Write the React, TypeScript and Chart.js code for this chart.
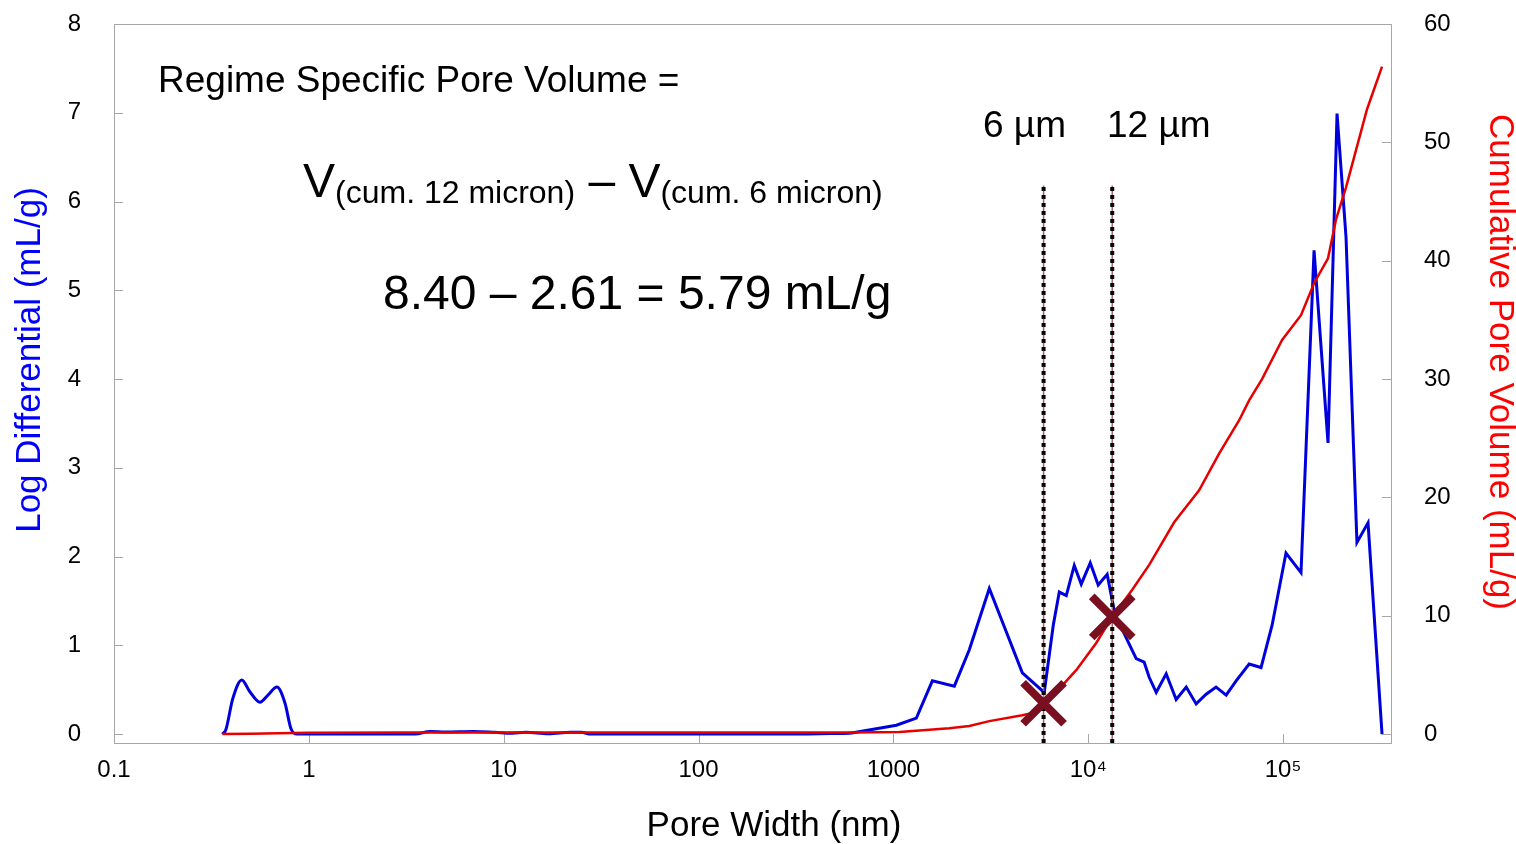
import React, { useEffect, useRef } from "react";
import { Chart, registerables } from "chart.js";

Chart.register(...registerables);

const FONT = "'Liberation Sans', Arial, sans-serif";

// Blue (log differential) – smooth micropore part
const blueSmallX = [0.36, 0.375, 0.407, 0.453, 0.497, 0.561, 0.617, 0.686, 0.754, 0.81, 0.87, 1, 2, 3.5, 4.2, 5, 7, 9, 11, 13, 17, 22, 25, 28, 40, 100, 300, 600];
const blueSmallY = [0, 0.05, 0.4, 0.61, 0.48, 0.36, 0.44, 0.53, 0.35, 0.06, 0, 0, 0, 0, 0.03, 0.025, 0.03, 0.02, 0.01, 0.02, 0.005, 0.02, 0.02, 0, 0, 0, 0, 0.01];

// Blue (log differential) – macropore part
const blueX = [600, 1036, 1312, 1585, 2055, 2453, 3107, 4590, 5945, 6618, 7103, 7716, 8478, 9206, 10240, 11250, 12510, 13700, 17630, 19370, 20550, 22330, 25120, 28270, 31840, 35810, 40280, 45310, 51040, 57420, 66950, 77100, 87890, 103500, 123600, 144200, 170100, 189200, 210400, 239400, 272900, 322000];
const blueY = [0.01, 0.1, 0.18, 0.6, 0.54, 0.95, 1.64, 0.69, 0.47, 1.23, 1.6, 1.56, 1.9, 1.69, 1.93, 1.68, 1.8, 1.35, 0.85, 0.81, 0.64, 0.47, 0.68, 0.39, 0.53, 0.34, 0.45, 0.53, 0.44, 0.6, 0.79, 0.75, 1.23, 2.04, 1.82, 5.45, 3.28, 6.99, 5.6, 2.16, 2.38, 0];

// Red (cumulative pore volume)
const redX = [0.36, 0.5, 0.7, 1, 3, 10, 30, 100, 300, 600, 1074, 1936, 2453, 3107, 4590, 5410, 5900, 6855, 8674, 10990, 13280, 16820, 20550, 27610, 37070, 46950, 59430, 66950, 78000, 98850, 123600, 144200, 170100, 187000, 210400, 269700, 322000];
const redY = [0, 0.04, 0.08, 0.12, 0.13, 0.13, 0.13, 0.13, 0.13, 0.14, 0.17, 0.5, 0.68, 1.1, 1.6, 1.86, 2.61, 3.55, 5.4, 7.7, 9.9, 12.2, 14.3, 17.9, 20.6, 23.7, 26.5, 28.2, 30.0, 33.3, 35.4, 38.1, 40.2, 43.5, 46.2, 52.8, 56.4];

// Regime boundaries (nm) and marker values on cumulative axis
const boundaryX = [5900, 13280];
const boundaryTop = 6.18;
const markerY = [2.61, 9.9];

const xTicks = [0.1, 1, 10, 100, 1000, 10000, 100000];
const xTickLabels = ["0.1", "1", "10", "100", "1000", "10\u2074", "10\u2075"];
const yTicks = [0, 1, 2, 3, 4, 5, 6, 7, 8];
const y2Ticks = [0, 10, 20, 30, 40, 50, 60];

const pts = (xs: number[], ys: number[]) => xs.map((x, i) => ({ x, y: ys[i] }));

const framePlugin = {
  id: "frame",
  beforeDatasetsDraw(chart: any) {
    const { ctx, chartArea: a, scales } = chart;
    ctx.save();
    ctx.strokeStyle = "#a6a6a6";
    ctx.lineWidth = 1;
    ctx.strokeRect(Math.round(a.left) + 0.5, Math.round(a.top) + 0.5, Math.round(a.right - a.left), Math.round(a.bottom - a.top));
    ctx.beginPath();
    const L = 9;
    yTicks.slice(0, -1).forEach((v) => {
      const y = Math.round(scales.y.getPixelForValue(v)) + 0.5;
      ctx.moveTo(a.left, y);
      ctx.lineTo(a.left + L, y);
    });
    y2Ticks.slice(0, -1).forEach((v) => {
      const y = Math.round(scales.y2.getPixelForValue(v)) + 0.5;
      ctx.moveTo(a.right, y);
      ctx.lineTo(a.right - L, y);
    });
    xTicks.slice(1).forEach((v) => {
      const x = Math.round(scales.x.getPixelForValue(v)) + 0.5;
      ctx.moveTo(x, a.bottom);
      ctx.lineTo(x, a.bottom - L);
    });
    ctx.stroke();
    ctx.restore();
  },
};

const textPlugin = {
  id: "texts",
  afterDraw(chart: any) {
    const c = chart.ctx;
    c.save();
    c.fillStyle = "#000";
    c.textAlign = "left";
    c.textBaseline = "middle";
    c.font = `37px ${FONT}`;
    c.fillText("Regime Specific Pore Volume =", 158, 82);

    let x = 303;
    c.textBaseline = "alphabetic";
    const draw = (t: string, size: number, y: number) => {
      c.font = `${size}px ${FONT}`;
      c.fillText(t, x, y);
      x += c.measureText(t).width;
    };
    draw("V", 48, 197);
    draw("(cum. 12 micron)", 32, 203);
    draw(" \u2013 ", 48, 197);
    draw("V", 48, 197);
    draw("(cum. 6 micron)", 32, 203);

    c.textBaseline = "middle";
    c.font = `48px ${FONT}`;
    c.fillText("8.40 \u2013 2.61 = 5.79 mL/g", 383, 296);

    c.font = `37px ${FONT}`;
    c.fillText("6 \u00b5m", 983, 127);
    c.fillText("12 \u00b5m", 1107, 127);

    // axis titles
    c.textAlign = "center";
    c.font = `35px ${FONT}`;
    c.fillText("Pore Width (nm)", 774, 826);

    c.save();
    c.translate(30, 360);
    c.rotate(-Math.PI / 2);
    c.fillStyle = "#0000ff";
    c.fillText("Log Differential (mL/g)", 0, 0);
    c.restore();

    c.save();
    c.translate(1500, 362);
    c.rotate(Math.PI / 2);
    c.fillStyle = "#ff0000";
    c.fillText("Cumulative Pore Volume (mL/g)", 0, 0);
    c.restore();

    c.restore();
  },
};

const noPad = (s: any) => {
  s.paddingTop = 0;
  s.paddingBottom = 0;
  s.paddingLeft = 0;
  s.paddingRight = 0;
};

export default function App() {
  const ref = useRef<HTMLCanvasElement>(null);
  useEffect(() => {
    const canvas = ref.current!;
    const tickFont = { family: FONT, size: 24 };
    const chart = new Chart(canvas, {
      type: "line",
      data: {
        datasets: [
          {
            label: "markers",
            data: boundaryX.map((x, i) => ({ x, y: markerY[i] })),
            yAxisID: "y2",
            showLine: false,
            pointStyle: "crossRot",
            pointRadius: 29,
            pointBorderWidth: 8,
            pointBorderColor: "#7a0f22",
            pointBackgroundColor: "#7a0f22",
            order: 0,
          },
          ...boundaryX.map((x) => ({
            label: "bdots",
            data: [{ x, y: -0.1 }, { x, y: boundaryTop }],
            yAxisID: "y",
            borderColor: "#000",
            borderWidth: 4,
            borderDash: [4, 4],
            pointRadius: 0,
            order: 1,
          })),
          ...boundaryX.map((x) => ({
            label: "bline",
            data: [{ x, y: -0.1 }, { x, y: boundaryTop }],
            yAxisID: "y",
            borderColor: "#a8606e",
            borderWidth: 1.5,
            pointRadius: 0,
            order: 2,
          })),
          {
            label: "cumulative",
            data: pts(redX, redY),
            yAxisID: "y2",
            borderColor: "#e60000",
            borderWidth: 2.5,
            pointRadius: 0,
            tension: 0,
            order: 3,
          },
          {
            label: "logdiff",
            data: pts(blueX, blueY),
            yAxisID: "y",
            borderColor: "#0000dd",
            borderWidth: 3,
            pointRadius: 0,
            tension: 0,
            order: 4,
          },
          {
            label: "logdiff-small",
            data: pts(blueSmallX, blueSmallY),
            yAxisID: "y",
            borderColor: "#0000dd",
            borderWidth: 3,
            pointRadius: 0,
            cubicInterpolationMode: "monotone",
            order: 5,
          },
        ],
      },
      options: {
        responsive: false,
        animation: false,
        clip: false,
        layout: { autoPadding: false, padding: { top: 24, left: 0, right: 0, bottom: 0 } },
        plugins: { legend: { display: false }, tooltip: { enabled: false } },
        scales: {
          x: {
            type: "logarithmic",
            min: 0.1,
            max: 358000,
            afterBuildTicks: (s: any) => {
              s.ticks = xTicks.map((v) => ({ value: v }));
            },
            afterFit: (s: any) => {
              s.height = 101;
              noPad(s);
            },
            grid: { display: false, drawTicks: false },
            border: { display: false },
            ticks: {
              autoSkip: false,
              maxRotation: 0,
              padding: 13,
              color: "#000",
              font: tickFont,
              callback: (v: any) => {
                const i = xTicks.indexOf(Number(v));
                return i >= 0 ? xTickLabels[i] : "";
              },
            },
          },
          y: {
            position: "left",
            min: -0.1,
            max: 8,
            afterBuildTicks: (s: any) => {
              s.ticks = yTicks.map((v) => ({ value: v }));
            },
            afterFit: (s: any) => {
              s.width = 114;
              noPad(s);
            },
            grid: { display: false, drawTicks: false },
            border: { display: false },
            ticks: { padding: 33, color: "#000", font: tickFont },
          },
          y2: {
            position: "right",
            min: -0.75,
            max: 60,
            afterBuildTicks: (s: any) => {
              s.ticks = y2Ticks.map((v) => ({ value: v }));
            },
            afterFit: (s: any) => {
              s.width = 125;
              noPad(s);
            },
            grid: { display: false, drawTicks: false },
            border: { display: false },
            ticks: { padding: 33, color: "#000", font: tickFont },
          },
        },
      },
      plugins: [framePlugin, textPlugin],
    } as any);
    return () => chart.destroy();
  }, []);
  return (
    <div style={{ position: "fixed", left: 0, top: 0, width: 1516, height: 844, background: "#fff" }}>
      <canvas ref={ref} width={1516} height={844} style={{ display: "block" }} />
    </div>
  );
}
